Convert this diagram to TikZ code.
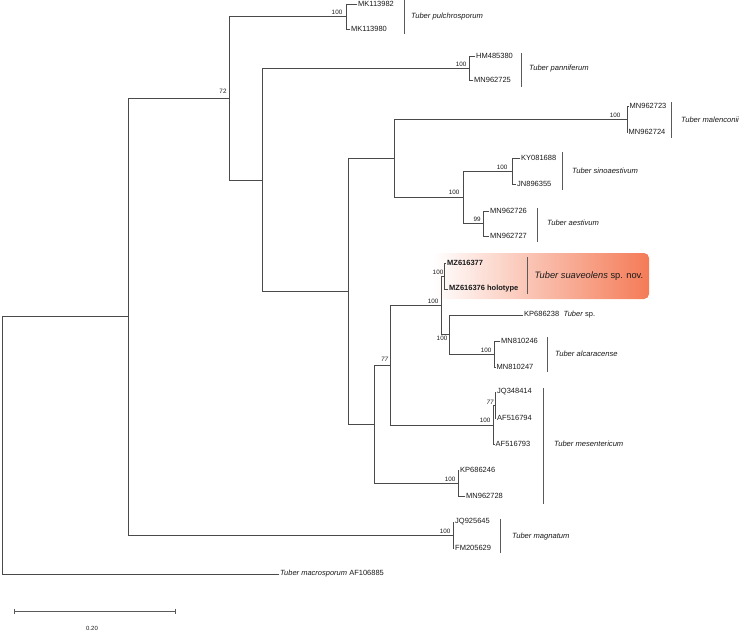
\documentclass[tikz,border=0pt]{standalone}
\usepackage{fontspec}
\setmainfont{Liberation Sans}
\definecolor{linegray}{HTML}{4A4A4A}
\definecolor{bargray}{HTML}{5A5A5A}
\definecolor{txt}{HTML}{1A1A1A}
\definecolor{coral}{HTML}{F47B57}
\begin{document}
\begin{tikzpicture}[x=1pt,y=-1pt,
  br/.style={draw=linegray, line width=0.8pt, line cap=rect},
  acc/.style={anchor=west, inner xsep=1pt, inner ysep=0pt, font=\fontsize{7.5}{8}\selectfont, text=txt},
  bs/.style={anchor=center, inner sep=0pt, font=\fontsize{6.3}{7}\selectfont, text=txt},
  sp/.style={anchor=west, inner sep=0pt, font=\fontsize{7.6}{8}\selectfont\itshape, text=txt},
  bar/.style={draw=bargray, line width=0.9pt}]
\useasboundingbox (0,0) rectangle (744,630);

% highlight
\shade[left color=white, right color=coral, rounded corners=5pt] (433,253) rectangle (649,299);

% internal nodes
\coordinate (A) at (346,16.5);
\coordinate (B) at (469,68);
\coordinate (C) at (627,119);
\coordinate (D) at (512,171);
\coordinate (E) at (483,223.5);
\coordinate (F) at (463,197);
\coordinate (G) at (394,158);
\coordinate (M) at (444,276);
\coordinate (O) at (494,354);
\coordinate (N) at (449,334.5);
\coordinate (L) at (441,305);
\coordinate (Q) at (495,405);
\coordinate (P) at (493,425);
\coordinate (J) at (390,365);
\coordinate (K) at (458,483);
\coordinate (I) at (374,424);
\coordinate (U) at (348,291);
\coordinate (T) at (262,180.5);
\coordinate (S) at (229,98);
\coordinate (Z) at (453,535);
\coordinate (R) at (128,316);
\coordinate (Root) at (2,445);

% leaves
\node[acc] (l1) at (357,4) {MK113982};
\node[acc] (l2) at (350,29) {MK113980};
\node[acc] (l3) at (475,56) {HM485380};
\node[acc] (l4) at (473,80) {MN962725};
\node[acc] (l5) at (628.5,106) {MN962723};
\node[acc] (l6) at (627.5,132) {MN962724};
\node[acc] (l7) at (520,158) {KY081688};
\node[acc] (l8) at (516,184) {JN896355};
\node[acc] (l9) at (489,211) {MN962726};
\node[acc] (l10) at (489,236) {MN962727};
\node[acc] (l11) at (446,263) {\bfseries MZ616377};
\node[acc] (l12) at (448,289) {\bfseries MZ616376 holotype};
\node[acc] (l13) at (523,315) {KP686238\hspace{4.5pt}\textit{Tuber} sp.};
\node[acc] (l14) at (500,341) {MN810246};
\node[acc] (l15) at (495.5,367) {MN810247};
\node[acc] (l16) at (496,392) {JQ348414};
\node[acc] (l17) at (496,418) {AF516794};
\node[acc] (l18) at (494.5,444) {AF516793};
\node[acc] (l19) at (459,470) {KP686246};
\node[acc] (l20) at (465,496) {MN962728};
\node[acc] (l21) at (454,522) {JQ925645};
\node[acc] (l22) at (454,548) {FM205629};
\node[acc] (l23) at (279,574) {\textit{Tuber macrosporum} AF106885};

% branches
\draw[br] (A) |- (l1.west);  \draw[br] (A) |- (l2.west);
\draw[br] (B) |- (l3.west);  \draw[br] (B) |- (l4.west);
\draw[br] (C) |- (l5.west);  \draw[br] (C) |- (l6.west);
\draw[br] (D) |- (l7.west);  \draw[br] (D) |- (l8.west);
\draw[br] (E) |- (l9.west);  \draw[br] (E) |- (l10.west);
\draw[br] (F) |- (D);        \draw[br] (F) |- (E);
\draw[br] (G) |- (C);        \draw[br] (G) |- (F);
\draw[br] (M) |- (l11.west); \draw[br] (M) |- (l12.west);
\draw[br] (O) |- (l14.west); \draw[br] (O) |- (l15.west);
\draw[br] (N) |- (l13.west); \draw[br] (N) |- (O);
\draw[br] (L) |- (M);        \draw[br] (L) |- (N);
\draw[br] (Q) |- (l16.west); \draw[br] (Q) |- (l17.west);
\draw[br] (P) |- (Q);        \draw[br] (P) |- (l18.west);
\draw[br] (J) |- (L);        \draw[br] (J) |- (P);
\draw[br] (K) |- (l19.west); \draw[br] (K) |- (l20.west);
\draw[br] (I) |- (J);        \draw[br] (I) |- (K);
\draw[br] (U) |- (G);        \draw[br] (U) |- (I);
\draw[br] (T) |- (B);        \draw[br] (T) |- (U);
\draw[br] (S) |- (A);        \draw[br] (S) |- (T);
\draw[br] (Z) |- (l21.west); \draw[br] (Z) |- (l22.west);
\draw[br] (R) |- (S);        \draw[br] (R) |- (Z);
\draw[br] (Root) |- (R);     \draw[br] (Root) |- (l23.west);

% bootstrap values
\node[bs] (bA) at (337,12) {100};
\node[bs] (bS) at (223,91) {72};
\node[bs] (bB) at (461,64) {100};
\node[bs] (bC) at (615,115) {100};
\node[bs] (bD) at (502,167) {100};
\node[bs] (bE) at (477,219) {99};
\node[bs] (bF) at (454,192) {100};
\node[bs] (bM) at (438,272) {100};
\node[bs] (bL) at (433,301) {100};
\node[bs] (bN) at (442,338) {100};
\node[bs] (bO) at (486,350) {100};
\node[bs] (bQ) at (490,402) {\itshape 77};
\node[bs] (bP) at (485,420) {100};
\node[bs] (bJ) at (384.5,359) {\itshape 77};
\node[bs] (bK) at (450,479) {100};
\node[bs] (bZ) at (445,531) {100};

% species bars and labels
\draw[bar] (404.5,0) -- (404.5,34);
\node[sp] (s1) at (411,17) {Tuber pulchrosporum};
\draw[bar] (521,53) -- (521,87);
\node[sp] (s2) at (529,69) {Tuber panniferum};
\draw[bar] (671,102) -- (671,138);
\node[sp] (s3) at (681,120) {Tuber malenconii};
\draw[bar] (562,152) -- (562,190);
\node[sp] (s4) at (572,171) {Tuber sinoaestivum};
\draw[bar] (537,208) -- (537,242);
\node[sp] (s5) at (547,223) {Tuber aestivum};
\draw[bar] (527,257) -- (527,294);
\node[sp, font=\fontsize{9.3}{10}\selectfont] (s6) at (534.5,276) {\textit{Tuber suaveolens} sp. nov.};
\draw[bar] (547,337) -- (547,372);
\node[sp] (s7) at (555,354) {Tuber alcaracense};
\draw[bar] (543,388) -- (543,504);
\node[sp] (s8) at (554,444) {Tuber mesentericum};
\draw[bar] (500,519) -- (500,553);
\node[sp] (s9) at (512,537) {Tuber magnatum};

% scale bar
\coordinate (sb1) at (14,611);
\coordinate (sb2) at (175,611);
\draw[bar, line width=0.8pt] (sb1) -- (sb2);
\draw[bar, line width=0.8pt] ([yshift=2.5pt]sb1) -- ([yshift=-2.5pt]sb1);
\draw[bar, line width=0.8pt] ([yshift=2.5pt]sb2) -- ([yshift=-2.5pt]sb2);
\node[bs, font=\fontsize{6}{7}\selectfont] (sbl) at (92,628) {0.20};
\end{tikzpicture}
\end{document}
